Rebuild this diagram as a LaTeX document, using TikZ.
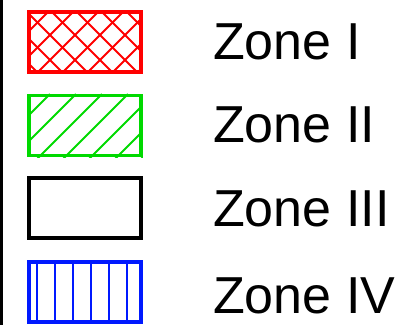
\documentclass[tikz,border=0pt]{standalone}
\usepackage{fontspec}
\setmainfont{Liberation Sans}
\usetikzlibrary{positioning}

\begin{document}
\begin{tikzpicture}[x=1pt,y=-1pt,
    zonebox/.style={draw,line width=3.5pt,minimum width=112pt,minimum height=60pt,inner sep=0pt},
    zonelabel/.style={anchor=base west,inner sep=0pt,font=\fontsize{52}{60}\selectfont},
    hatch/.style={line width=2pt}]
        \useasboundingbox (0,0) rectangle (413,325);
        % Bordo sinistro
        \draw[line width=3pt] (1.5,0) -- (1.5,325);
        % Zone I
        \node[zonebox,draw=red] (z1) at (85,42) {};
        \begin{scope}
            \clip (z1.south west) rectangle (z1.north east);
            \foreach \x in {-100,-75,...,250} {
                \draw[hatch,red] (\x,10) -- ++(70,70);
                \draw[hatch,red] (\x,10) -- ++(-70,70);
            }
        \end{scope}
        % Zone II
        \node[zonebox,draw=green!85!black] (z2) at (85,125.5) {};
        \begin{scope}
            \clip (z2.south west) rectangle (z2.north east);
            \foreach \x in {-2,24,...,210}
                \draw[hatch,green!85!black] (\x,94) -- ++(-70,70);
        \end{scope}
        % Zone III
        \node[zonebox,draw=black] (z3) at (85,208) {};
        % Zone IV
        \node[zonebox,draw=blue!90!cyan] (z4) at (85,292) {};
        \foreach \x in {37,55,...,127}
            \draw[hatch,blue!90!cyan] (\x,0 |- z4.north) -- (\x,0 |- z4.south);
        % Etichette
        \node[zonelabel] (l1) at (213,59) {Zone I};
        \node[zonelabel] (l2) at (213,142.5) {Zone II};
        \node[zonelabel] (l3) at (213,226) {Zone III};
        \node[zonelabel] (l4) at (213,313) {Zone IV};
    \end{tikzpicture}
\end{document}
